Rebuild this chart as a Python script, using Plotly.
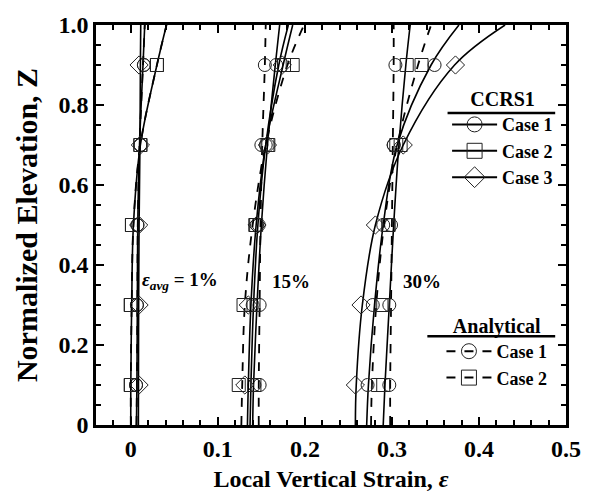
import plotly.graph_objects as go

# Average strain levels of the three profile groups
STRAIN_LEVELS = ["1%", "15%", "30%"]

# Normalized elevations of the plotted points and of the profile curves
Z_POINTS = [0.1, 0.3, 0.5, 0.7, 0.9]
Z_CURVE = [0.0, 0.1, 0.3, 0.5, 0.7, 0.9, 1.0]

# CCRS1 local strains at Z_POINTS (one row per strain level)
CCRS1_CASE1_PTS = [
    [0.006, 0.007, 0.0076, 0.011, 0.015],
    [0.142, 0.140, 0.145, 0.155, 0.167],
    [0.272, 0.278, 0.290, 0.302, 0.349],
]
CCRS1_CASE2_PTS = [
    [0.000, 0.000, 0.0013, 0.011, 0.030],
    [0.142, 0.141, 0.144, 0.157, 0.176],
    [0.290, 0.290, 0.296, 0.310, 0.317],
]
CCRS1_CASE3_PTS = [
    [0.0095, 0.0095, 0.009, 0.011, 0.0095],
    [0.131, 0.135, 0.145, 0.157, 0.174],
    [0.258, 0.2645, 0.281, 0.313, 0.373],
]

# CCRS1 strain profiles at Z_CURVE
CCRS1_CASE1_CURVE = [
    [0.0065, 0.007, 0.0075, 0.008, 0.010, 0.014, 0.016],
    [0.137, 0.138, 0.141, 0.146, 0.155, 0.170, 0.181],
    [0.271, 0.273, 0.280, 0.290, 0.306, 0.345, 0.377],
]
CCRS1_CASE2_CURVE = [
    [0.000, 0.000, 0.001, 0.003, 0.011, 0.030, 0.041],
    [0.140, 0.141, 0.145, 0.150, 0.157, 0.166, 0.171],
    [0.290, 0.292, 0.297, 0.302, 0.308, 0.316, 0.321],
]
CCRS1_CASE3_CURVE = [
    [0.0087, 0.0088, 0.009, 0.0095, 0.0105, 0.011, 0.0114],
    [0.134, 0.135, 0.138, 0.144, 0.155, 0.175, 0.186],
    [0.258, 0.259, 0.266, 0.281, 0.313, 0.372, 0.430],
]

# Analytical solutions at Z_POINTS
ANALYTICAL_CASE1_PTS = [
    [0.006, 0.007, 0.0076, 0.011, 0.015],
    [0.148, 0.148, 0.147, 0.150, 0.154],
    [0.297, 0.297, 0.299, 0.302, 0.304],
]
ANALYTICAL_CASE2_PTS = [
    [0.000, 0.000, 0.0013, 0.011, 0.030],
    [0.124, 0.1295, 0.143, 0.158, 0.186],
    [0.284, 0.288, 0.296, 0.305, 0.334],
]

# Analytical profiles at Z_CURVE
ANALYTICAL_CASE1_CURVE = [
    [0.0065, 0.007, 0.0075, 0.008, 0.010, 0.014, 0.016],
    [0.147, 0.147, 0.148, 0.149, 0.151, 0.154, 0.155],
    [0.298, 0.298, 0.299, 0.300, 0.301, 0.302, 0.302],
]
ANALYTICAL_CASE2_CURVE = [
    [0.000, 0.000, 0.001, 0.003, 0.011, 0.030, 0.041],
    [0.127, 0.128, 0.131, 0.140, 0.155, 0.180, 0.199],
    [0.276, 0.277, 0.282, 0.291, 0.306, 0.330, 0.345],
]

# Group labels and where they sit
LABELS = ["<i>ε</i><sub><i>avg</i></sub> = 1%", "15%", "30%"]
LABEL_X = [0.011, 0.160, 0.310]
LABEL_Z = 0.36

FONT = "Liberation Serif"


def joined(rows, z):
    """Concatenate the strain-level rows into one polyline with gaps."""
    xs, ys = [], []
    for i, row in enumerate(rows):
        if i:
            xs.append(None)
            ys.append(None)
        xs.extend(row)
        ys.extend(z)
    return xs, ys


SERIES = [
    ("legend2", "Case 1", "circle-open", 13, "dash", ANALYTICAL_CASE1_CURVE, ANALYTICAL_CASE1_PTS),
    ("legend2", "Case 2", "square-open", 13, "dash", ANALYTICAL_CASE2_CURVE, ANALYTICAL_CASE2_PTS),
    ("legend", "Case 1", "circle-open", 13, "solid", CCRS1_CASE1_CURVE, CCRS1_CASE1_PTS),
    ("legend", "Case 2", "square-open", 13, "solid", CCRS1_CASE2_CURVE, CCRS1_CASE2_PTS),
    ("legend", "Case 3", "diamond-open", 14, "solid", CCRS1_CASE3_CURVE, CCRS1_CASE3_PTS),
]

fig = go.Figure()
for leg, name, symbol, size, dash, curve, pts in SERIES:
    group = f"{leg}-{name}"
    lw = 1.6 if dash == "solid" else 1.8
    cx, cy = joined(curve, Z_CURVE)
    fig.add_trace(go.Scatter(
        x=cx, y=cy, mode="lines",
        line=dict(color="black", width=lw, dash=dash, shape="spline"),
        legendgroup=group, showlegend=False, hoverinfo="skip"))
    px, py = joined(pts, Z_POINTS)
    fig.add_trace(go.Scatter(
        x=px, y=py, mode="markers",
        marker=dict(symbol=symbol, size=size, color="#222", line=dict(width=1, color="#222")),
        legendgroup=group, showlegend=False))
    # legend entry: line with marker
    fig.add_trace(go.Scatter(
        x=[None], y=[None], mode="lines+markers", name=f"<b>{name}</b>",
        legend=leg, legendgroup=group,
        line=dict(color="black", width=2, dash=dash),
        marker=dict(symbol=symbol, size=size + 2, color="#222", line=dict(width=1, color="#222"))))

for txt, xv in zip(LABELS, LABEL_X):
    fig.add_annotation(x=xv, y=LABEL_Z, text=f"<b>{txt}</b>", showarrow=False,
                       xanchor="left", yanchor="middle",
                       font=dict(family=FONT, size=19, color="black"))

axis_common = dict(
    showline=True, linecolor="black", linewidth=2.5, mirror="ticks",
    ticks="inside", ticklen=8, tickwidth=2, tickcolor="black",
    showgrid=False, zeroline=False,
    tickfont=dict(family=FONT, size=24, color="black"),
)
fig.update_xaxes(
    range=[-0.04, 0.5], tickvals=[0, 0.1, 0.2, 0.3, 0.4, 0.5],
    ticktext=["<b>0</b>", "<b>0.1</b>", "<b>0.2</b>", "<b>0.3</b>", "<b>0.4</b>", "<b>0.5</b>"],
    minor=dict(dtick=0.02, tick0=0, ticks="inside", ticklen=5, tickwidth=2, tickcolor="black"),
    title=dict(text="<b>Local Vertical Strain, <i>ε</i></b>",
               font=dict(family=FONT, size=24, color="black"), standoff=10),
    **axis_common)
fig.update_yaxes(
    range=[0, 1.0], tickvals=[0, 0.2, 0.4, 0.6, 0.8, 1.0],
    ticktext=["<b>0</b>", "<b>0.2</b>", "<b>0.4</b>", "<b>0.6</b>", "<b>0.8</b>", "<b>1.0</b>"],
    minor=dict(dtick=0.05, tick0=0, ticks="inside", ticklen=5, tickwidth=2, tickcolor="black"),
    title=dict(text="<b>Normalized Elevation, Z</b>",
               font=dict(family=FONT, size=30, color="black"), standoff=12),
    **axis_common)

legend_common = dict(
    bgcolor="rgba(0,0,0,0)", borderwidth=0, xanchor="left", yanchor="top",
    font=dict(family=FONT, size=18, color="black"), itemwidth=45,
    tracegroupgap=0,
)
fig.update_layout(
    width=593, height=500,
    margin=dict(l=96, r=17, t=16, b=72),
    paper_bgcolor="white", plot_bgcolor="white",
    showlegend=True,
    legend=dict(x=0.747, y=0.862,
                title=dict(text="<b>CCRS1</b>", side="top center",
                           font=dict(family=FONT, size=20, color="black")),
                **legend_common),
    legend2=dict(x=0.735, y=0.295,
                 title=dict(text="<b>Analytical</b>", side="top center",
                            font=dict(family=FONT, size=20, color="black")),
                 **legend_common),
)
# underlines below the legend titles
fig.add_shape(type="line", xref="paper", yref="paper", x0=0.748, x1=0.977, y0=0.780, y1=0.780,
              line=dict(color="black", width=2.5))
fig.add_shape(type="line", xref="paper", yref="paper", x0=0.705, x1=0.977, y0=0.2216, y1=0.2216,
              line=dict(color="black", width=2.5))

fig.write_html("out.html")
